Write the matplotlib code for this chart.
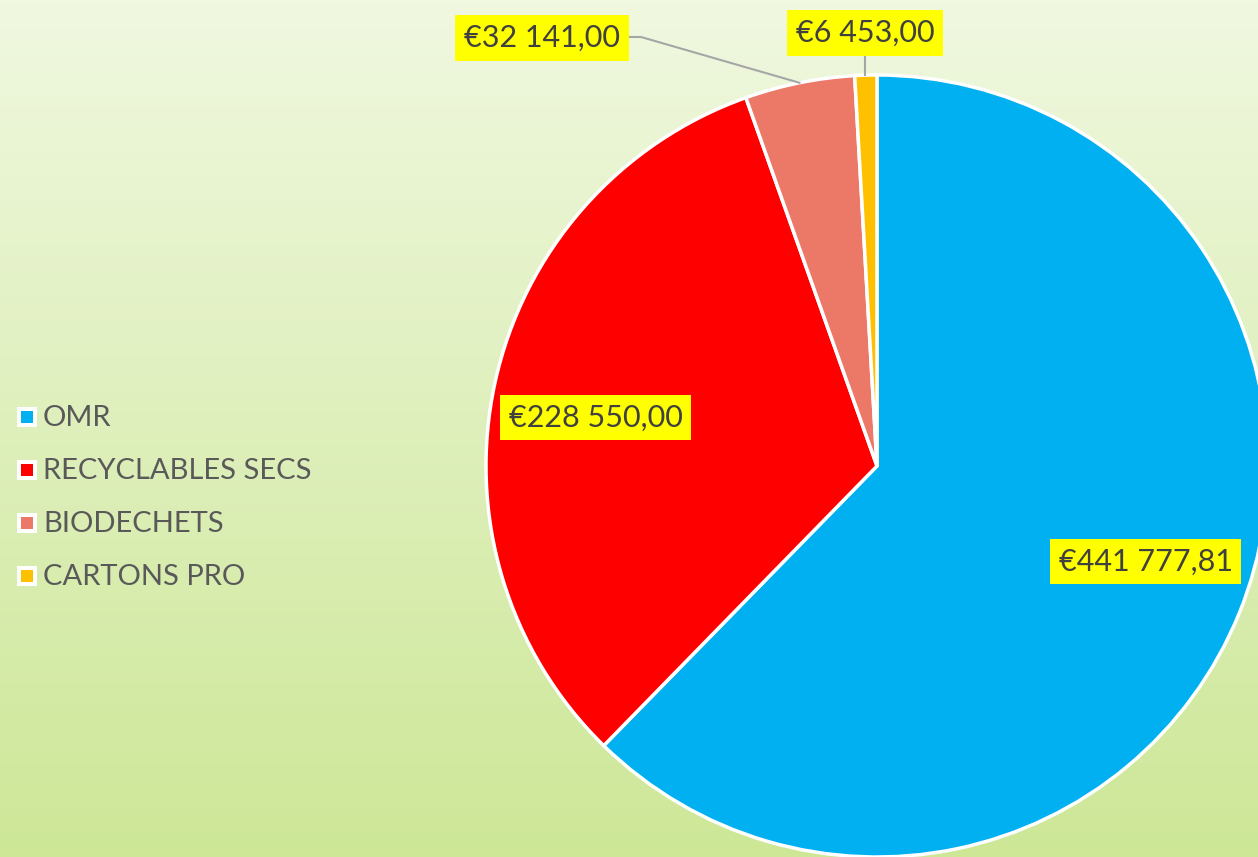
import numpy as np
import matplotlib
matplotlib.use("Agg")
import matplotlib.pyplot as plt
from matplotlib.patches import Rectangle
from matplotlib.lines import Line2D

categories = ["OMR", "RECYCLABLES SECS", "BIODECHETS", "CARTONS PRO"]
values = [441777.81, 228550.00, 32141.00, 6453.00]
labels = ["€441 777,81", "€228 550,00", "€32 141,00", "€6 453,00"]
colors = ["#00b0f0", "#ff0000", "#ec7868", "#ffc000"]

W, H = 1258, 857
fig = plt.figure(figsize=(W / 100, H / 100), dpi=100)

# background gradient
bg = fig.add_axes([0, 0, 1, 1])
top = np.array([240, 248, 224]) / 255
bot = np.array([205, 231, 151]) / 255
t = np.linspace(0, 1, 256)[:, None]
grad = top * (1 - t) + bot * t
bg.imshow(grad[:, None, :].repeat(2, axis=1), aspect="auto", extent=[0, 1, 0, 1])
bg.axis("off")

# pie axes: centre (877, 466 from top), radius 391 px
cx, cy, r = 877, H - 466, 391
ax = fig.add_axes([(cx - r) / W, (cy - r) / H, 2 * r / W, 2 * r / H])
wedges, _ = ax.pie(values, colors=colors, startangle=90, counterclock=False,
                   radius=1, wedgeprops=dict(edgecolor="white", linewidth=2.5))
for w in wedges:
    w.set_clip_on(False)
ax.set_xlim(-1, 1)
ax.set_ylim(-1, 1)
ax.set_aspect("equal")
ax.axis("off")

font = "Lato"
box = dict(boxstyle="square,pad=0.28", fc="#ffff00", ec="none")
txtcol = "#404040"
fs = 22

total = sum(values)
angles = []
start = 90.0
for v in values:
    span = 360 * v / total
    angles.append(start - span / 2)
    start -= span

# inside labels: placed at 0.73 r, slightly rotated from the wedge mid-angle
for i in (0, 1):
    a = np.deg2rad(angles[i] + 2.6)
    ax.text(0.73 * np.cos(a), 0.73 * np.sin(a), labels[i], ha="center", va="center",
            fontsize=fs, color=txtcol, family=font, bbox=box, clip_on=False)

# outside labels (pixel-based offsets converted to axis units)
def px(x, y):
    return (x - cx) / r, ((H - y) - cy) / r

bx, by = px(542, 38)
ax.text(bx, by, labels[2], ha="center", va="center", fontsize=fs, color=txtcol,
        family=font, bbox=box, clip_on=False)
a = np.deg2rad(angles[2])
ex, ey = np.cos(a), np.sin(a)
p1 = px(628, 37)
p2 = px(641, 37)
ax.add_line(Line2D([p1[0], p2[0], ex], [p1[1], p2[1], ey], color="#a6a6a6", lw=1.5, clip_on=False))

cxl, cyl = px(865, 33)
ax.text(cxl, cyl, labels[3], ha="center", va="center", fontsize=fs, color=txtcol,
        family=font, bbox=box, clip_on=False)
a = np.deg2rad(angles[3])
ex, ey = np.cos(a), np.sin(a)
q = px(865, 56)
ax.add_line(Line2D([q[0], q[0]], [q[1], ey], color="#a6a6a6", lw=1.5, clip_on=False))

# legend
rows = [417, 470, 523, 576]
for cat, col, y in zip(categories, colors, rows):
    bg.add_patch(Rectangle((17 / W, 1 - (y + 10) / H), 20 / W, 20 / H, fc="white", ec="none",
                           transform=bg.transAxes))
    bg.add_patch(Rectangle((21 / W, 1 - (y + 6) / H), 12 / W, 12 / H, fc=col, ec="none",
                           transform=bg.transAxes))
    bg.text(43 / W, 1 - (y + 1) / H, cat, ha="left", va="center", fontsize=21, color="#595959",
            family=font, transform=bg.transAxes)

fig.savefig("out.png", dpi=100)
